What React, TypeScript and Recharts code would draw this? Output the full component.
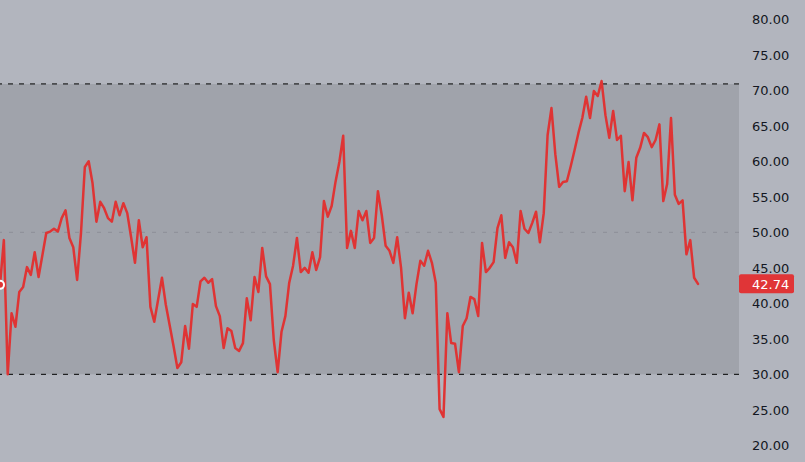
import React from 'react';
import { LineChart, Line, XAxis, YAxis, ReferenceArea, ReferenceLine } from 'recharts';

// first value sits just left of the visible window
const rsiValues: number[] = [
    49.5,
    42.6, 48.9, 30.0, 38.6, 36.7, 41.6, 42.3, 45.1, 44.0, 47.2,
    43.7, 46.8, 49.9, 50.1, 50.5, 50.1, 52.0, 53.1, 49.2, 47.9,
    43.3, 49.9, 59.2, 60.0, 56.9, 51.5, 54.3, 53.4, 52.0, 51.5,
    54.3, 52.4, 54.1, 52.7, 49.3, 45.7, 51.7, 47.9, 49.3, 39.5,
    37.4, 40.5, 43.6, 39.8, 36.9, 34.0, 30.9, 31.7, 36.8, 33.6,
    39.9, 39.5, 43.1, 43.6, 42.9, 43.4, 39.6, 38.2, 33.7, 36.5,
    36.1, 33.7, 33.3, 34.4, 40.7, 37.6, 43.7, 41.6, 47.8, 43.8,
    42.7, 34.8, 30.3, 36.0, 38.2, 42.9, 45.3, 49.2, 44.4, 45.0,
    44.3, 47.2, 44.7, 46.5, 54.4, 52.2, 53.7, 57.1, 59.9, 63.6,
    47.8, 50.2, 47.8, 53.0, 51.7, 53.0, 48.5, 49.2, 55.8, 52.4,
    48.1, 47.4, 45.7, 49.3, 45.0, 37.9, 41.5, 38.6, 42.7, 46.0,
    45.3, 47.4, 45.7, 42.9, 25.1, 24.0, 38.6, 34.4, 34.3, 30.3,
    36.8, 37.9, 40.9, 40.6, 38.2, 48.5, 44.4, 45.0, 45.8, 50.6,
    52.4, 46.4, 48.6, 47.9, 45.7, 53.0, 50.5, 49.9, 51.3, 52.9,
    48.6, 52.7, 63.7, 67.5, 61.0, 56.4, 57.1, 57.2, 59.3, 61.6,
    64.0, 66.1, 69.1, 66.1, 69.9, 69.2, 71.3, 66.5, 63.3, 67.1,
    63.0, 63.6, 55.8, 59.9, 54.5, 60.5, 61.9, 64.0, 63.4, 62.0,
    63.0, 65.2, 54.4, 56.8, 66.1, 55.3, 54.0, 54.5, 46.9, 48.9,
    43.6, 42.74,
];

const scaleTicks: number[] = [20, 25, 30, 35, 40, 45, 50, 55, 60, 65, 70, 75, 80];
const upperLevel = 70.9;
const middleLevel = 50;
const lowerLevel = 30;

const data = rsiValues.map((v, i) => ({ i: i - 1, rsi: v }));
const lastIndex = rsiValues.length - 2;
const lastValue = rsiValues[rsiValues.length - 1];
const axisTicks = [...scaleTicks, lastValue];

// price-scale tick: normal label, or the red tag for the last value
const ScaleTick = (props: any) => {
    const { x, y, payload } = props;
    const value = payload.value as number;
    if (value === lastValue) {
        return (
            <g>
                <rect x={x - 13} y={y - 9.5} width={55} height={19} rx={2} fill="#e03537" />
                <text x={x} y={y + 5} fill="#ffffff" fontSize={13} fontFamily="DejaVu Sans">
                    {value.toFixed(2)}
                </text>
            </g>
        );
    }
    return (
        <text x={x} y={y + 5} fill="#131722" fontSize={13} fontFamily="DejaVu Sans">
            {value.toFixed(2)}
        </text>
    );
};

export default function App() {
    return (
        <div style={{ width: 805, height: 462, background: '#b2b5be' }}>
            <style>{`body { margin: 0; }`}</style>
            <LineChart width={805} height={462} data={data} margin={{ top: 0, right: 0, bottom: 0, left: 0 }}>
                <XAxis
                    dataKey="i"
                    type="number"
                    domain={[0, lastIndex * (739 / 698)]}
                    allowDataOverflow
                    hide
                />
                <YAxis
                    orientation="right"
                    width={66}
                    domain={[17.65, 82.72]}
                    ticks={axisTicks}
                    interval={0}
                    allowDataOverflow
                    axisLine={false}
                    tickLine={false}
                    tickSize={6}
                    tickMargin={7}
                    tick={<ScaleTick />}
                />
                <ReferenceArea y1={lowerLevel} y2={upperLevel} fill="#a0a3ab" fillOpacity={1} stroke="none" />
                <ReferenceLine y={upperLevel} stroke="#000000" strokeDasharray="5 6" />
                <ReferenceLine y={lowerLevel} stroke="#000000" strokeDasharray="5 6" />
                <ReferenceLine y={middleLevel} stroke="#8c8f97" strokeDasharray="4 7" />
                <Line
                    type="linear"
                    dataKey="rsi"
                    stroke="#df3434"
                    strokeWidth={2.5}
                    strokeLinejoin="round"
                    strokeLinecap="round"
                    dot={false}
                    isAnimationActive={false}
                />
            </LineChart>
        </div>
    );
}
